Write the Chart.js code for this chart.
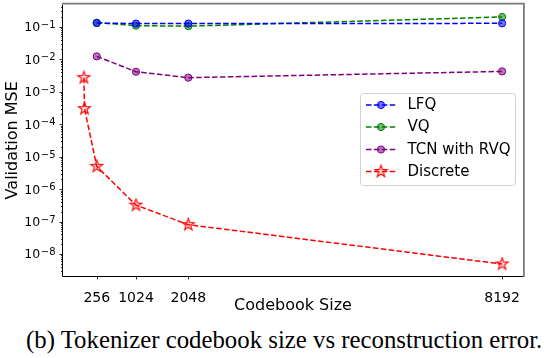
<!DOCTYPE html>
<html>
<head>
<meta charset="utf-8">
<script src="https://cdn.jsdelivr.net/npm/chart.js@4.4.1/dist/chart.umd.min.js"></script>
<style>
    body { margin: 0; background: #fff; width: 544px; height: 358px; overflow: hidden; position: relative; }
    #wrap { position: absolute; left: 0; top: 0; width: 544px; height: 318px; }
    #caption {
        position: absolute; left: 26px; top: 326px; white-space: nowrap;
        font-family: "Liberation Serif", "DejaVu Serif", serif; font-size: 24.8px; line-height: 28px; color: #000;
    }
</style>
</head>
<body>
<div id="wrap"><canvas id="mseChart" width="544" height="318"></canvas></div>
<div id="caption">(b) Tokenizer codebook size vs reconstruction error.</div>
<script>
// codebook sizes shared by the three continuous tokenizers
const codebookSizes = [256, 1024, 2048, 8192];
const lfqMse = [0.13, 0.125, 0.125, 0.127];
const vqMse = [0.133, 0.108, 0.104, 0.2];
const tcnMse = [0.0122, 0.0041, 0.0027, 0.0042];

// discrete tokenizer has two extra small codebooks
const discreteSizes = [4, 16, 256, 1024, 2048, 8192];
const discreteMse = [0.0027, 0.0003, 5.0e-6, 3.2e-7, 8.0e-8, 4.9e-9];

// tick labels
const xTicks = [256, 1024, 2048, 8192];
const yTickExponents = [-1, -2, -3, -4, -5, -6, -7, -8];

const toPoints = (xs, ys) => xs.map((x, i) => ({ x: x, y: ys[i] }));

// matplotlib-like 5 point star marker
function makeStar(size, color) {
    const c = document.createElement('canvas');
    c.width = size; c.height = size;
    const g = c.getContext('2d');
    const cx = size / 2, cy = size / 2, ro = size / 2 - 1.2, ri = ro * 0.4;
    g.beginPath();
    for (let i = 0; i < 10; i++) {
        const r = i % 2 === 0 ? ro : ri;
        const a = -Math.PI / 2 + i * Math.PI / 5;
        const px = cx + r * Math.cos(a), py = cy + r * Math.sin(a);
        if (i === 0) g.moveTo(px, py); else g.lineTo(px, py);
    }
    g.closePath();
    g.fillStyle = 'rgba(255,0,0,0.12)';
    g.fill();
    g.strokeStyle = color;
    g.lineWidth = 1.1;
    g.stroke();
    return c;
}
const starMarker = makeStar(15, 'red');

const dash = [5.5, 2.4];

const mseData = {
    datasets: [
        {
            label: 'LFQ',
            data: toPoints(codebookSizes, lfqMse),
            borderColor: 'blue', backgroundColor: 'rgba(0,0,255,0.55)',
            pointBorderColor: 'blue', pointBackgroundColor: 'rgba(0,0,255,0.55)'
        },
        {
            label: 'VQ',
            data: toPoints(codebookSizes, vqMse),
            borderColor: 'green', backgroundColor: 'rgba(0,128,0,0.55)',
            pointBorderColor: 'green', pointBackgroundColor: 'rgba(0,128,0,0.55)'
        },
        {
            label: 'TCN with RVQ',
            data: toPoints(codebookSizes, tcnMse),
            borderColor: 'purple', backgroundColor: 'rgba(128,0,128,0.55)',
            pointBorderColor: 'purple', pointBackgroundColor: 'rgba(128,0,128,0.55)'
        },
        {
            label: 'Discrete',
            data: toPoints(discreteSizes, discreteMse),
            borderColor: 'red', backgroundColor: 'rgba(255,0,0,0.12)',
            pointStyle: starMarker
        }
    ]
};
mseData.datasets.forEach(ds => {
    ds.borderWidth = 1.5;
    ds.borderDash = dash;
    ds.pointRadius = 3.6;
    ds.pointBorderWidth = 1;
    ds.pointHoverRadius = 3.6;
    ds.tension = 0;
    ds.fill = false;
});

const tickFont = '"DejaVu Sans", sans-serif';

// spines, tick marks, y labels with superscripts and the legend box
const decorPlugin = {
    id: 'decor',
    afterDraw(chart) {
        const ctx = chart.ctx;
        const ca = chart.chartArea;
        const xs = chart.scales.x, ys = chart.scales.y;
        ctx.save();

        // y tick marks: major at powers of ten, minor in between
        ctx.strokeStyle = '#000';
        ctx.lineWidth = 0.8;
        for (let e = -9; e <= 0; e++) {
            for (let m = 1; m <= 9; m++) {
                const v = m * Math.pow(10, e);
                if (v < ys.min || v > ys.max) continue;
                const p = Math.round(ys.getPixelForValue(v)) + 0.5;
                const len = m === 1 ? 3.5 : 2;
                ctx.beginPath();
                ctx.moveTo(ca.left - len, p);
                ctx.lineTo(ca.left, p);
                ctx.stroke();
            }
        }
        // x tick marks
        xTicks.forEach(v => {
            const p = Math.round(xs.getPixelForValue(v)) + 0.5;
            ctx.beginPath();
            ctx.moveTo(p, ca.bottom);
            ctx.lineTo(p, ca.bottom + 3.5);
            ctx.stroke();
        });

        // y labels 10^e
        ctx.fillStyle = '#000';
        ctx.textBaseline = 'alphabetic';
        yTickExponents.forEach(e => {
            const p = ys.getPixelForValue(Math.pow(10, e));
            const right = ca.left - 7.5;
            ctx.font = '10px ' + tickFont;
            ctx.textAlign = 'right';
            const sup = '\u2212' + Math.abs(e);
            const supW = ctx.measureText(sup).width;
            ctx.fillText(sup, right, p + 1);
            ctx.font = '12.5px ' + tickFont;
            ctx.fillText('10', right - supW - 0.5, p + 4.5);
        });

        // spines
        ctx.lineWidth = 1;
        ctx.strokeStyle = '#000';
        ctx.beginPath();
        ctx.moveTo(ca.left - 0.5, ca.top);
        ctx.lineTo(ca.left - 0.5, ca.bottom + 0.5);
        ctx.lineTo(ca.right, ca.bottom + 0.5);
        ctx.stroke();
        ctx.strokeStyle = '#7a7a7a';
        ctx.lineWidth = 1.8;
        ctx.beginPath();
        ctx.moveTo(ca.left - 1, ca.top - 0.9);
        ctx.lineTo(ca.right + 0.9, ca.top - 0.9);
        ctx.lineTo(ca.right + 0.9, ca.bottom + 1);
        ctx.stroke();

        // legend
        const bx = 360.5, by = 93.5, bw = 155, bh = 92;
        ctx.fillStyle = 'rgba(255,255,255,0.8)';
        ctx.strokeStyle = '#d0d0d0';
        ctx.lineWidth = 1;
        ctx.beginPath();
        ctx.roundRect(bx, by, bw, bh, 3);
        ctx.fill();
        ctx.stroke();
        const rowY = [105, 127, 149.5, 171.5];
        chart.data.datasets.forEach((ds, i) => {
            const y = rowY[i];
            ctx.strokeStyle = ds.borderColor;
            ctx.lineWidth = 1.5;
            ctx.setLineDash(dash);
            ctx.beginPath();
            ctx.moveTo(366, y);
            ctx.lineTo(396, y);
            ctx.stroke();
            ctx.setLineDash([]);
            if (ds.pointStyle) {
                ctx.drawImage(ds.pointStyle, 381 - 7.5, y - 7.5);
            } else {
                ctx.beginPath();
                ctx.arc(381, y, 3.6, 0, Math.PI * 2);
                ctx.fillStyle = ds.pointBackgroundColor;
                ctx.fill();
                ctx.lineWidth = 1;
                ctx.stroke();
            }
            ctx.fillStyle = '#000';
            ctx.font = '15px ' + tickFont;
            ctx.textAlign = 'left';
            ctx.textBaseline = 'middle';
            ctx.fillText(ds.label, 407.5, y + 0.5);
        });
        ctx.restore();
    }
};

const mseConfig = {
    type: 'line',
    data: mseData,
    options: {
        responsive: false,
        animation: false,
        devicePixelRatio: 1,
        layout: { padding: { left: 0, top: 2, right: 21, bottom: 0 } },
        scales: {
            x: {
                type: 'linear',
                min: -405,
                max: 8601,
                bounds: 'data',
                afterBuildTicks: scale => { scale.ticks = xTicks.map(v => ({ value: v })); },
                afterFit: scale => { scale.height = 42; },
                grid: { display: false },
                border: { display: false },
                ticks: {
                    color: '#000',
                    padding: 6,
                    maxRotation: 0,
                    autoSkip: false,
                    font: { family: tickFont, size: 14 },
                    callback: v => String(v)
                },
                title: {
                    display: true,
                    text: 'Codebook Size',
                    color: '#000',
                    padding: { top: 3, bottom: 3 },
                    font: { family: tickFont, size: 16 }
                }
            },
            y: {
                type: 'logarithmic',
                min: 2.1e-9,
                max: 0.48,
                bounds: 'data',
                afterFit: scale => { scale.width = 63; },
                grid: { display: false },
                border: { display: false },
                ticks: { display: false },
                title: {
                    display: true,
                    text: 'Validation MSE',
                    color: '#000',
                    padding: { top: 3, bottom: 3 },
                    font: { family: tickFont, size: 16 }
                }
            }
        },
        plugins: {
            legend: { display: false },
            tooltip: { enabled: false }
        }
    },
    plugins: [decorPlugin]
};

const mseCtx = document.getElementById('mseChart').getContext('2d');
const mseChart = new Chart(mseCtx, mseConfig);
</script>
</body>
</html>
